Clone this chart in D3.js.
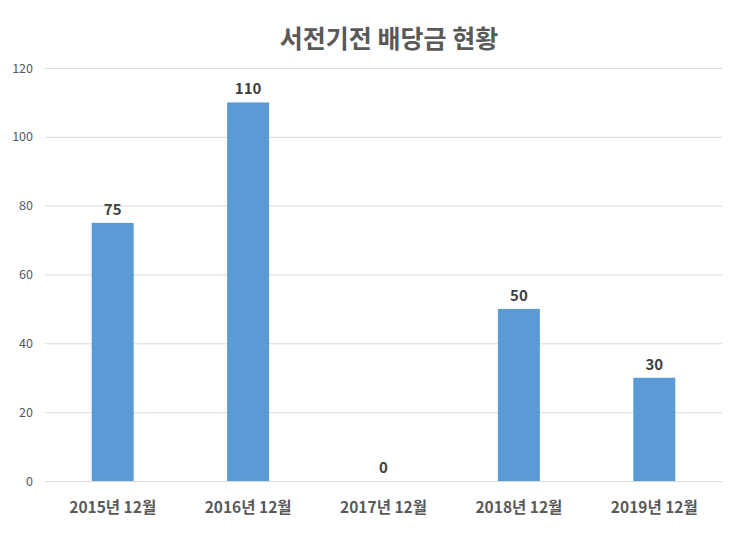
<!DOCTYPE html>
<html><head><meta charset="utf-8">
<script src="https://cdn.jsdelivr.net/npm/d3@7"></script>
<style>body{margin:0;background:#fff;} svg{display:block;}</style>
</head><body>
<svg id="c" width="740" height="535"></svg>
<script>
const categories = ["2015년 12월","2016년 12월","2017년 12월","2018년 12월","2019년 12월"];
const values = [75,110,0,50,30];
const yTicks = [0,20,40,60,80,100,120];
const title = "서전기전 배당금 현황";

(function(){
const svg = d3.select("#c");
const font = "'Noto Sans CJK KR','Noto Sans',sans-serif";
const mLeft = 45, mRight = 722, mTop = 68, mBottom = 481;
const x = d3.scaleBand().domain(categories).range([mLeft,mRight]).paddingInner(0.69).paddingOuter(0.345);
const y = d3.scaleLinear().domain([0,120]).range([mBottom,mTop]);

svg.append("text").attr("x",389).attr("y",48).attr("text-anchor","middle")
  .attr("font-family",font).attr("font-weight","bold").attr("font-size",25).attr("fill","#595959").text(title);

const ya = svg.append("g").attr("transform",`translate(${mLeft},0)`)
  .call(d3.axisLeft(y).tickValues(yTicks).tickSize(-(mRight-mLeft)).tickPadding(12));
ya.select(".domain").remove();
ya.selectAll(".tick line").attr("stroke","#d9d9d9").attr("stroke-width",1);
ya.selectAll(".tick text").attr("font-family",font).attr("font-size",12.5).attr("fill","#595959");

svg.append("g").selectAll("rect").data(values).join("rect")
  .attr("x",(d,i)=>x(categories[i])).attr("width",x.bandwidth())
  .attr("y",d=>y(d)).attr("height",d=>mBottom-y(d)).attr("fill","#5B9BD5");

svg.append("g").selectAll("text").data(values).join("text")
  .attr("x",(d,i)=>x(categories[i])+x.bandwidth()/2).attr("y",d=>y(d)-8)
  .attr("text-anchor","middle").attr("font-family",font).attr("font-weight","bold")
  .attr("font-size",15).attr("fill","#404040").text(d=>d);

const xa = svg.append("g").attr("transform",`translate(0,${mBottom})`)
  .call(d3.axisBottom(x).tickSize(0).tickPadding(21));
xa.select(".domain").remove();
xa.selectAll(".tick text").attr("font-family",font).attr("font-weight","bold").attr("font-size",15.5).attr("fill","#595959");
})();
</script>
</body></html>
